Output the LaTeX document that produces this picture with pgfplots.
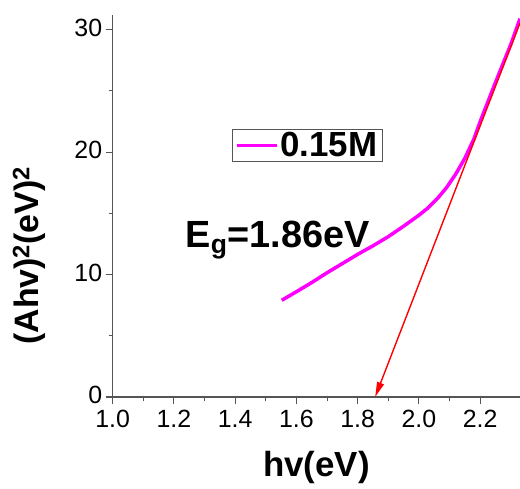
\documentclass[border=0pt]{standalone}
\usepackage{fontspec}
\setmainfont{Liberation Sans}
\usepackage{pgfplots}
\pgfplotsset{compat=1.18}
\usetikzlibrary{arrows.meta}
\definecolor{axgray}{HTML}{555555}
\definecolor{mag}{HTML}{FF00FF}
\definecolor{rd}{HTML}{FF0000}
\begin{document}
\begin{tikzpicture}
\begin{axis}[
  at={(0,0)}, anchor=south west,
  scale only axis, width=407.3bp, height=382bp,
  xmin=1.0, xmax=2.33, ymin=0, ymax=31.2,
  axis x line*=bottom, axis y line*=left,
  axis line style={-, draw=axgray, line width=1.3bp},
  every tick/.style={axgray, line width=1.1bp},
  tick align=outside,
  major tick length=7bp, minor tick length=4bp,
  xtick={1.0,1.2,1.4,1.6,1.8,2.0,2.2},
  minor x tick num=1,
  ytick={0,10,20,30},
  minor y tick num=1,
  /pgf/number format/assume math mode=true,
  xticklabel style={/pgf/number format/fixed, /pgf/number format/fixed zerofill, /pgf/number format/precision=1, yshift=-3bp},
  yticklabel style={yshift=2bp},
  tick label style={font=\fontsize{25}{25}\selectfont, text=black},
  every axis x label/.style={at={(rel axis cs:0.5,0)}, yshift=-70bp, anchor=center},
  every axis y label/.style={at={(rel axis cs:-0.205,0.37)}, rotate=90, anchor=center},
  xlabel={\fontsize{35}{35}\selectfont\bfseries hv(eV)},
  ylabel={\fontsize{34}{34}\selectfont\bfseries (Ahv)\textsuperscript{2}(eV)\textsuperscript{2}},
  legend style={at={(rel axis cs:0.293,0.702)}, anchor=north west, draw=axgray, line width=0.8bp,
    font=\fontsize{35}{35}\selectfont\bfseries, inner xsep=3bp, inner ysep=1bp},
  legend image code/.code={\draw[#1, line width=3bp] (0bp,0bp) -- (40bp,0bp);},
  clip=false,
]
\addplot[mag, line width=3.5bp, line join=round] coordinates {
(1.552,7.9) (1.60,8.6) (1.65,9.35) (1.70,10.15) (1.75,10.9) (1.80,11.65)
(1.85,12.35) (1.90,13.1) (1.95,13.95) (2.00,14.85) (2.03,15.45) (2.06,16.2)
(2.09,17.1) (2.12,18.2) (2.15,19.5) (2.18,21.1) (2.20,22.5) (2.25,25.7)
(2.30,28.8) (2.33,30.9)
};
\addlegendentry{0.15M}
\addplot[rd, line width=1.4bp, -{Triangle[length=15bp,width=7bp]}, forget plot] coordinates {(2.33,30.55) (1.857,0)};
\node[anchor=base west, font=\fontsize{38}{38}\selectfont\bfseries] at (axis cs:1.227,12.2) {E\textsubscript{g}=1.86eV};
\end{axis}
\pgfresetboundingbox
\path (-112.7bp,-92bp) rectangle (407.3bp,397bp);
\end{tikzpicture}
\end{document}
